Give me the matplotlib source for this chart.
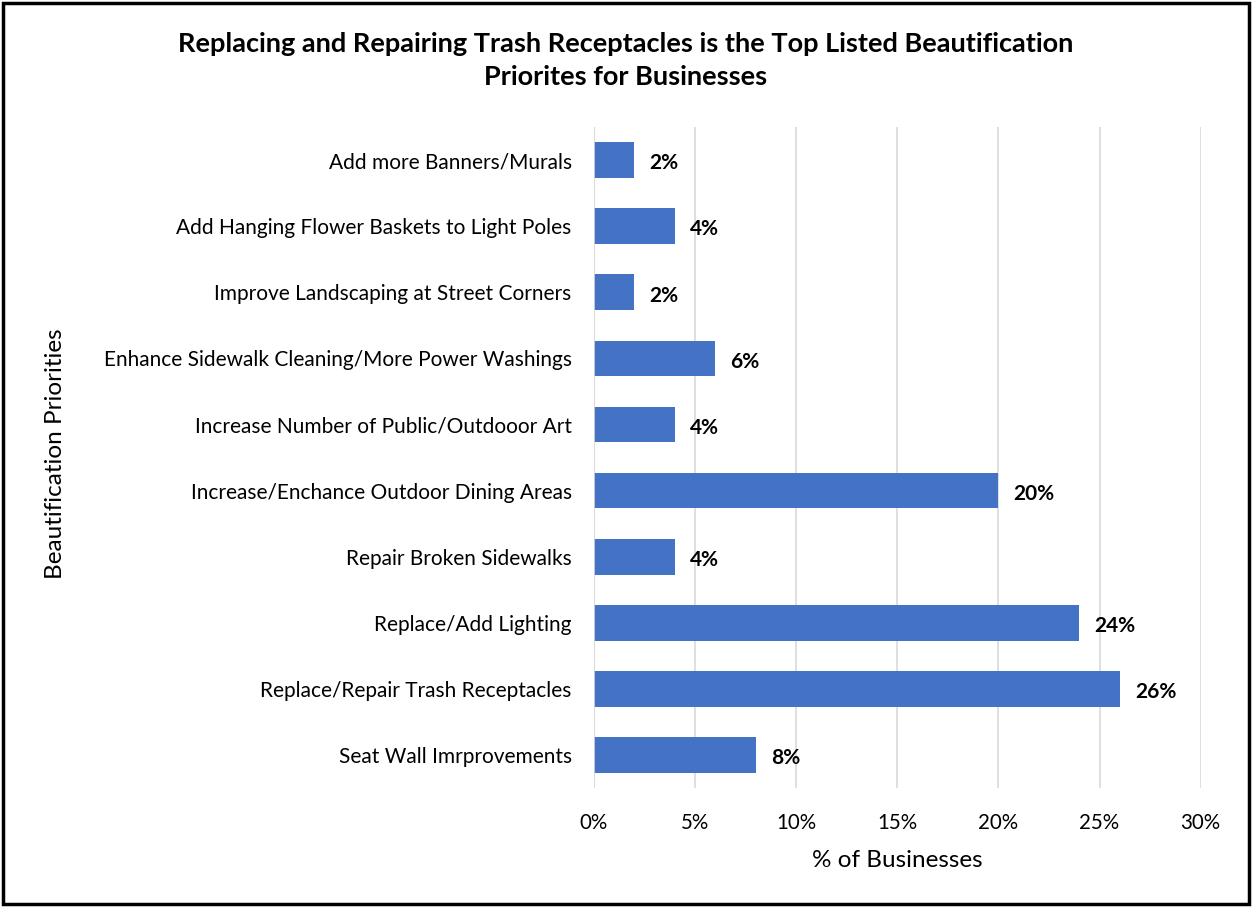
import matplotlib.pyplot as plt
from matplotlib.patches import Rectangle
from matplotlib.ticker import FuncFormatter

plt.rcParams['font.family'] = ['Lato', 'DejaVu Sans']

priorities = [
    'Add more Banners/Murals',
    'Add Hanging Flower Baskets to Light Poles',
    'Improve Landscaping at Street Corners',
    'Enhance Sidewalk Cleaning/More Power Washings',
    'Increase Number of Public/Outdooor Art',
    'Increase/Enchance Outdoor Dining Areas',
    'Repair Broken Sidewalks',
    'Replace/Add Lighting',
    'Replace/Repair Trash Receptacles',
    'Seat Wall Imrprovements',
]
share = [2, 4, 2, 6, 4, 20, 4, 24, 26, 8]
xticks = [0, 5, 10, 15, 20, 25, 30]

fig = plt.figure(figsize=(12.52, 9.07), dpi=100)
ax = fig.add_axes([0.4744, 0.131, 0.4846, 0.729])

ypos = list(range(len(priorities)))[::-1]
ax.barh(ypos, share, height=0.54, color='#4472C4', zorder=3)
for y, v in zip(ypos, share):
    ax.text(v + 0.75, y - 0.05, f'{v}%', va='center', ha='left',
            fontsize=15, fontweight='bold', color='black')

ax.set_yticks(ypos)
ax.set_yticklabels(priorities, fontsize=15)
ax.set_ylim(-0.5, len(priorities) - 0.5)
ax.set_xlim(0, 30)
ax.set_xticks(xticks)
ax.xaxis.set_major_formatter(FuncFormatter(lambda v, p: f'{v:.0f}%'))
ax.tick_params(axis='x', labelsize=14.8, length=0, pad=18)
ax.tick_params(axis='y', length=0, pad=16)
ax.grid(axis='x', color='#D9D9D9', linewidth=1.2, zorder=0)
for s in ax.spines.values():
    s.set_visible(False)
ax.axvline(0, color='#D9D9D9', linewidth=1.2, zorder=4)

ax.set_xlabel('% of Businesses', fontsize=17.5, labelpad=12)
fig.text(0.044, 0.5, 'Beautification Priorities', rotation=90,
         va='center', ha='center', fontsize=17.5)

fig.text(0.5, 0.933, 'Replacing and Repairing Trash Receptacles is the Top Listed Beautification\nPriorites for Businesses',
         ha='center', va='center', fontsize=19.5, fontweight='bold',
         linespacing=1.45)

fig.patches.append(Rectangle((0.002, 0.003), 0.996, 0.994, transform=fig.transFigure,
                             fill=False, edgecolor='black', linewidth=2.5))

fig.savefig('out.png', dpi=100)
